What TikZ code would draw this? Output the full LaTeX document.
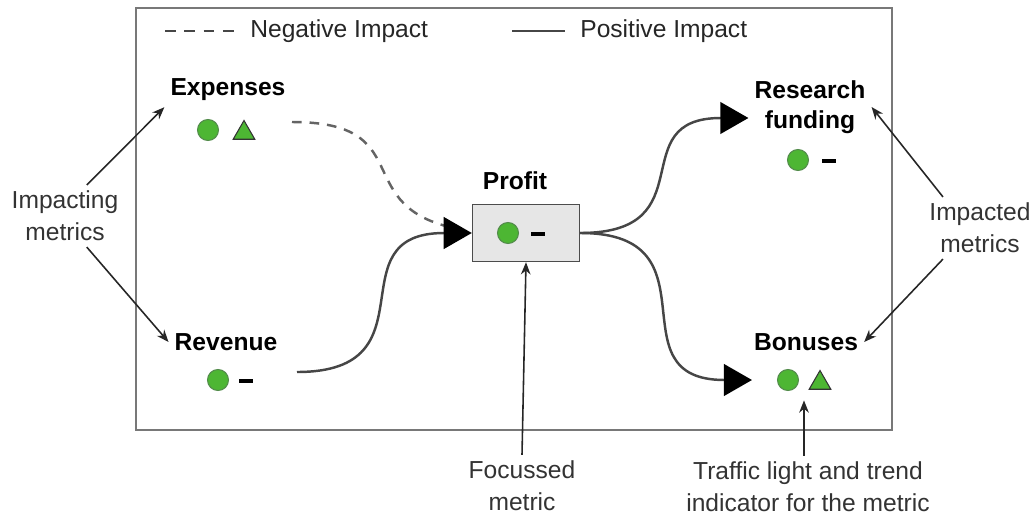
\documentclass[tikz,border=0pt]{standalone}
\usepackage{fontspec}
\setmainfont{Liberation Sans}
\usepackage{tikz}
\usetikzlibrary{calc,positioning,arrows.meta,shapes.geometric}
\definecolor{lightgreen}{RGB}{77,182,51}
\definecolor{darkgreen}{RGB}{40,110,30}
\definecolor{linegray}{RGB}{70,70,70}
\definecolor{dashgray}{RGB}{100,100,100}
\definecolor{framegray}{RGB}{120,120,120}
\definecolor{boxgray}{RGB}{230,230,230}

\begin{document}
\begin{tikzpicture}[x=0.02cm, y=-0.02cm, >={Stealth[length=7pt,width=5.5pt]},
  every node/.style={font=\fontsize{14}{17}\selectfont},
  metric/.style={font=\fontsize{14}{17}\selectfont\bfseries, align=center},
  note/.style={text=black!80, align=center, font=\fontsize{14}{18}\selectfont},
  light/.style={circle, fill=lightgreen, draw=darkgreen!80, line width=0.6pt, minimum size=0.42cm, inner sep=0},
  trendup/.style={regular polygon, regular polygon sides=3, fill=lightgreen, draw=black!80, line width=0.6pt, minimum size=0.5cm, inner sep=0},
  trendflat/.style={fill=black, minimum width=0.28cm, minimum height=0.08cm, inner sep=0},
  flow/.style={line width=1.4pt, linegray, looseness=1.6},
  bighead/.style={-{Triangle[length=16pt,width=18pt,black]}},
  pointer/.style={line width=0.9pt, black!85, ->}]
  \useasboundingbox (0,0) rectangle (1036,518);
  \draw[framegray, line width=1.2pt] (136,8) rectangle (892,430);
  % legend
  \draw[linegray, line width=1.2pt, dash pattern=on 6pt off 5pt] (165,31) -- (240,31);
  \node[anchor=west, inner sep=0, text=black!85] (negkey) at (250,31) {Negative Impact};
  \draw[linegray, line width=1.2pt] (512,31) -- (565,31);
  \node[anchor=west, inner sep=0, text=black!85] (poskey) at (580,31) {Positive Impact};
  % metrics
  \node[metric] (exp) at (228,90) {Expenses};
  \node[light] (expL) at (208,130) {};
  \node[trendup] (expT) at (244,133) {};
  \node[metric] (rev) at (226,342) {Revenue};
  \node[light] (revL) at (218,380) {};
  \node[trendflat] (revD) at (246,381) {};
  \node[metric] (proftitle) at (515,181) {Profit};
  \node[draw=black!70, fill=boxgray, line width=0.8pt, minimum width=2.14cm, minimum height=1.14cm] (profit) at (526,233) {};
  \node[light] (profL) at (508,233) {};
  \node[trendflat] (profD) at (538,234) {};
  \node[metric] (res) at (810,107) {Research\\funding};
  \node[light] (resL) at (798,160) {};
  \node[trendflat] (resD) at (829,161) {};
  \node[metric] (bon) at (806,342) {Bonuses};
  \node[light] (bonL) at (788,380) {};
  \node[trendup] (bonT) at (820,383) {};
  % impacts
  \coordinate (expout) at (292,122);
  \coordinate (revout) at (297,372);
  \draw[dashgray, line width=1.4pt, dash pattern=on 5.5pt off 4.5pt, shorten >=0.52cm, looseness=1.5] (expout) to[out=0, in=165] (profit.west);
  \draw[flow, bighead] (revout) to[out=0, in=180] (profit.west);
  \draw[flow, bighead] (profit.east) to[out=0, in=180] ([yshift=-0.22cm]res.west);
  \draw[flow, bighead] (profit.east) to[out=0, in=180] ([xshift=-0.5cm]bonL.west);
  % notes
  \node[note] (impg) at (65,216) {Impacting\\metrics};
  \draw[pointer] (impg.55) -- (exp.south west);
  \draw[pointer] (impg.-55) -- (rev.west);
  \node[note] (impd) at (980,228) {Impacted\\metrics};
  \draw[pointer] (impd.140) -- (res.east);
  \draw[pointer] (impd.-140) -- (bon.east);
  \node[note] (focus) at (522,486) {Focussed\\metric};
  \draw[pointer] (focus.north) -- (profit.south);
  \node[note] (traffic) at (808,487) {Traffic light and trend\\indicator for the metric};
  \coordinate (bonmid) at ($(bonL.south)!0.5!(bonT.south)$);
  \draw[pointer] (traffic.north -| bonmid) -- ([yshift=-0.2cm]bonmid);
\end{tikzpicture}
\end{document}
